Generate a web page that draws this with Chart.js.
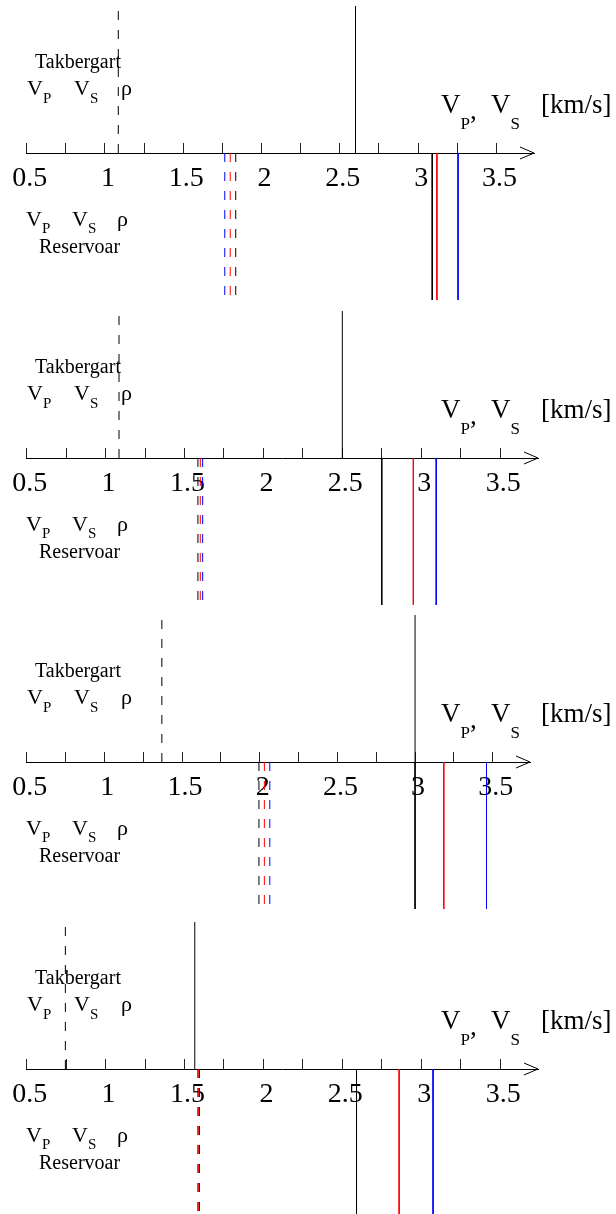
<!DOCTYPE html>
<html>
<head>
<meta charset="utf-8">
<title>Takbergart / Reservoar</title>
<script src="https://cdn.jsdelivr.net/npm/chart.js@4.4.1/dist/chart.umd.min.js"></script>
<style>
  html, body { margin: 0; padding: 0; background: #fff; }
  body { width: 616px; height: 1214px; overflow: hidden; position: relative; }
  .panel { position: absolute; left: 0; width: 616px; height: 306px; }
</style>
</head>
<body>
<div class="panel" style="top:0px"><canvas id="panel0" width="616" height="306"></canvas></div>
<div class="panel" style="top:305px"><canvas id="panel1" width="616" height="306"></canvas></div>
<div class="panel" style="top:609px"><canvas id="panel2" width="616" height="306"></canvas></div>
<div class="panel" style="top:916px"><canvas id="panel3" width="616" height="306"></canvas></div>
<script>
// velocity axis (km/s)
const tickValues = [0.5, 0.75, 1, 1.25, 1.5, 1.75, 2, 2.25, 2.5, 2.75, 3, 3.25, 3.5];
const labeledTicks = [0.5, 1, 1.5, 2, 2.5, 3, 3.5];
const axisStart = 0.5;
const axisEnd = 3.74;

// cap rock (Takbergart), one value per panel
const capVp = [2.60, 2.50, 3.00, 1.565];
const capVs = [1.085, 1.085, 1.37, 0.745];

// reservoir (Reservoar), three fluid cases per panel
const resVpBlack = [3.09, 2.75, 3.00, 2.59];
const resVpRed   = [3.12, 2.95, 3.185, 2.86];
const resVpBlue  = [3.255, 3.095, 3.46, 3.075];
const resVsBlack = [1.835, 1.585, 1.995, 1.585];
const resVsRed   = [1.80, 1.60, 2.03, 1.59];
const resVsBlue  = [1.765, 1.615, 2.065, 1.595];

// where each panel's axis starts and where its arrow ends on the page
const arrowTipX = [534, 538, 530, 538];
const axisLeftX = 26.7;

const SERIF = '"Liberation Serif", "Times New Roman", serif';
Chart.defaults.font.family = SERIF;

// vertical stick from the axis up (side = 1) or down (side = -1)
function stick(value, side, color, dashed) {
    return {
        data: [{ x: value, y: 0 }, { x: value, y: side }],
        borderColor: color,
        borderWidth: 1,
        borderDash: dashed ? [9, 10] : [],
        pointRadius: 0,
        fill: false,
        tension: 0
    };
}

// letter with a subscript, returns the x where the subscript ends
function subText(ctx, x, y, main, sub, size, subSize, drop) {
    ctx.font = size + 'px ' + SERIF;
    ctx.fillText(main, x, y);
    const w = ctx.measureText(main).width;
    ctx.font = subSize + 'px ' + SERIF;
    ctx.fillText(sub, x + w, y + drop);
    return x + w + ctx.measureText(sub).width;
}

const panelText = {
    id: 'panelText',
    afterDraw(chart) {
        const ctx = chart.ctx;
        const xs = chart.scales.x;
        const y0 = chart.scales.y.getPixelForValue(0);
        const tip = xs.getPixelForValue(axisEnd);
        ctx.save();
        ctx.fillStyle = '#000';
        ctx.strokeStyle = '#000';
        ctx.textAlign = 'left';
        ctx.textBaseline = 'alphabetic';

        // open arrow head
        ctx.lineWidth = 1;
        ctx.beginPath();
        ctx.moveTo(tip - 14, y0 - 6);
        ctx.lineTo(tip, y0);
        ctx.lineTo(tip - 14, y0 + 6);
        ctx.stroke();

        // cap rock legend
        ctx.font = '20px ' + SERIF;
        ctx.fillText('Takbergart', 35, y0 - 85);
        subText(ctx, 27, y0 - 58, 'V', 'P', 22, 15, 8);
        subText(ctx, 74, y0 - 58, 'V', 'S', 22, 15, 8);
        ctx.font = '22px ' + SERIF;
        ctx.fillText('ρ', 121, y0 - 58);

        // reservoir legend
        subText(ctx, 26, y0 + 73, 'V', 'P', 22, 15, 7);
        subText(ctx, 72, y0 + 73, 'V', 'S', 22, 15, 7);
        ctx.font = '22px ' + SERIF;
        ctx.fillText('ρ', 117, y0 + 73);
        ctx.font = '20px ' + SERIF;
        ctx.fillText('Reservoar', 39, y0 + 100);

        // axis title
        const endP = subText(ctx, 441, y0 - 40, 'V', 'P', 27, 17, 16);
        ctx.font = '27px ' + SERIF;
        ctx.fillText(',', endP, y0 - 34);
        subText(ctx, 491, y0 - 40, 'V', 'S', 27, 17, 16);
        ctx.font = '27px ' + SERIF;
        ctx.fillText('[km/s]', 541, y0 - 40);
        ctx.restore();
    }
};

function makePanel(i) {
    // first dataset ends up on top, so black reservoir lines go last
    const datasets = [
        stick(capVp[i], 1, '#000', false),
        stick(capVs[i], 1, '#000', true),
        stick(resVpBlue[i], -1, '#0000ff', false),
        stick(resVpRed[i], -1, '#ff0000', false),
        stick(resVpBlack[i], -1, '#000', false),
        stick(resVsBlue[i], -1, '#0000ff', true),
        stick(resVsRed[i], -1, '#ff0000', true),
        stick(resVsBlack[i], -1, '#000', true)
    ];
    new Chart(document.getElementById('panel' + i), {
        type: 'line',
        data: { datasets: datasets },
        options: {
            responsive: false,
            animation: false,
            devicePixelRatio: 1,
            layout: { padding: { left: axisLeftX, right: 616 - arrowTipX[i], top: 6, bottom: 6 } },
            plugins: { legend: { display: false }, tooltip: { enabled: false } },
            scales: {
                x: {
                    type: 'linear',
                    position: { y: 0 },
                    min: axisStart,
                    max: axisEnd,
                    afterBuildTicks: (scale) => {
                        scale.ticks = tickValues.map(v => ({ value: v }));
                    },
                    // labels may hang past the axis ends, don't shrink the axis for them
                    afterFit: (scale) => {
                        scale.paddingLeft = 0;
                        scale.paddingRight = 0;
                    },
                    border: { display: true, color: '#000', width: 1 },
                    grid: {
                        display: true,
                        drawOnChartArea: false,
                        drawTicks: true,
                        tickLength: -11,
                        tickColor: '#222',
                        lineWidth: 1
                    },
                    ticks: {
                        autoSkip: false,
                        maxRotation: 0,
                        padding: 20,
                        labelOffset: 3,
                        color: '#000',
                        font: { size: 28, family: SERIF },
                        callback: (value) => labeledTicks.includes(value) ? String(value) : ''
                    }
                },
                y: { type: 'linear', display: false, min: -1, max: 1 }
            }
        },
        plugins: [panelText]
    });
}

[0, 1, 2, 3].forEach(makePanel);
</script>
</body>
</html>
